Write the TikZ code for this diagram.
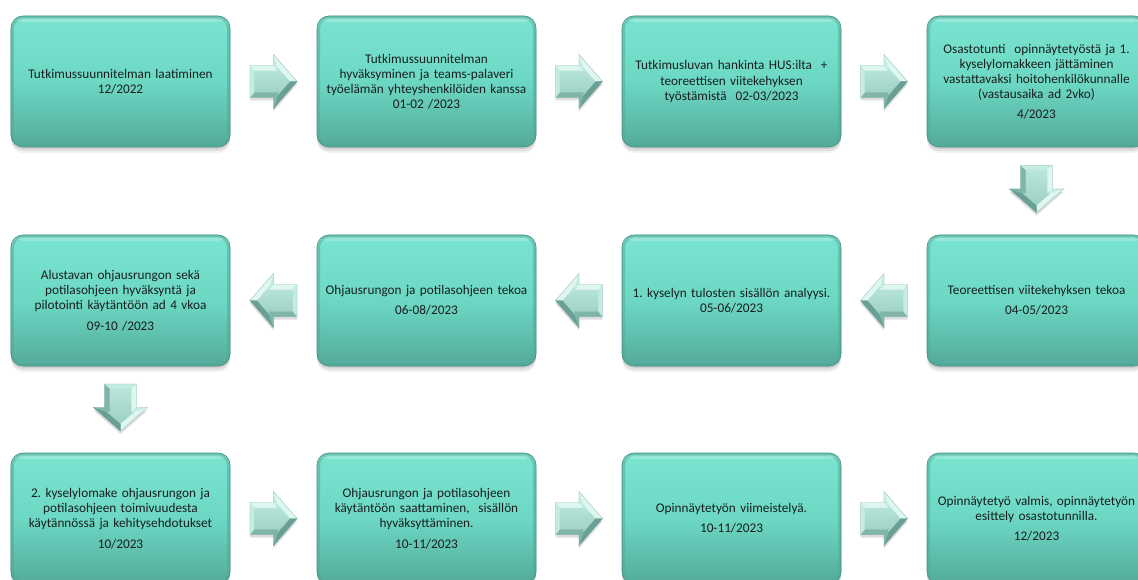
\documentclass[tikz,border=0pt]{standalone}
\usepackage{fontspec}
\setmainfont{Carlito}
\usetikzlibrary{calc,shadows}
\frenchspacing
\definecolor{boxtop}{RGB}{122,228,208}
\definecolor{boxmid}{RGB}{108,216,196}
\definecolor{boxbot}{RGB}{84,170,154}
\definecolor{boxedge}{RGB}{70,145,132}
\definecolor{textc}{RGB}{25,30,30}
\definecolor{arlight}{RGB}{222,248,241}
\definecolor{armidl}{RGB}{196,236,226}
\definecolor{arface1}{RGB}{186,230,219}
\definecolor{arface2}{RGB}{155,208,195}
\definecolor{ardark}{RGB}{128,182,170}
\definecolor{ardarker}{RGB}{105,160,149}
\tikzset{
  stage/.style={rounded corners=12bp, minimum width=219bp, minimum height=131bp,
    inner sep=0pt, text width=216bp, align=center,
    font=\fontsize{13.3}{15.2}\selectfont\frenchspacing, text=textc,
    top color=boxtop, bottom color=boxbot, middle color=boxmid,
    draw=boxedge, line width=0.6bp,
    drop shadow={shadow xshift=0bp, shadow yshift=-2bp, opacity=0.08, fill=black},
    drop shadow={shadow xshift=0bp, shadow yshift=-4bp, opacity=0.07, fill=black},
    drop shadow={shadow xshift=0bp, shadow yshift=-6bp, opacity=0.05, fill=black},
    path picture={
      \draw[boxbot, opacity=0.55, line width=6bp]
        (path picture bounding box.south west) rectangle (path picture bounding box.north east);
      \fill[white, opacity=0.22]
        ([yshift=-2bp]path picture bounding box.north west) rectangle ([yshift=-6bp]path picture bounding box.north east);
    }},
  facet/.style={line width=0.2bp},
}
\newcommand{\blockarrow}[2]{%
  \begin{scope}[shift={($(#1)+(0,3)$)},#2]
    \fill[black,opacity=0.13] (-23.5,-16) -- (0,-16) -- (0,-27) -- (23.5,0) -- (0,27) -- (0,16) -- (-23.5,16) -- cycle;
  \end{scope}
  \begin{scope}[shift={(#1)},#2]
    \coordinate (O1) at (-23.5,-16); \coordinate (O2) at (0,-16); \coordinate (O3) at (0,-27);
    \coordinate (O4) at (23.5,0); \coordinate (O5) at (0,27); \coordinate (O6) at (0,16);
    \coordinate (O7) at (-23.5,16);
    \coordinate (I1) at (-19.5,-11); \coordinate (I2) at (4,-11); \coordinate (I3) at (4,-14.7);
    \coordinate (I4) at (16.8,0); \coordinate (I5) at (4,14.7); \coordinate (I6) at (4,11);
    \coordinate (I7) at (-19.5,11);
    \shade[top color=arface1, bottom color=arface2] (I1) -- (I2) -- (I3) -- (I4) -- (I5) -- (I6) -- (I7) -- cycle;
    \filldraw[facet, fill=arlight, draw=arlight] (O1) -- (O2) -- (I2) -- (I1) -- cycle;
    \filldraw[facet, fill=armidl, draw=armidl] (O2) -- (O3) -- (I3) -- (I2) -- cycle;
    \filldraw[facet, fill=arlight, draw=arlight] (O3) -- (O4) -- (I4) -- (I3) -- cycle;
    \filldraw[facet, fill=ardarker, draw=ardarker] (O4) -- (O5) -- (I5) -- (I4) -- cycle;
    \filldraw[facet, fill=ardark, draw=ardark] (O5) -- (O6) -- (I6) -- (I5) -- cycle;
    \filldraw[facet, fill=ardark, draw=ardark] (O6) -- (O7) -- (I7) -- (I6) -- cycle;
    \filldraw[facet, fill=armidl, draw=armidl] (O7) -- (O1) -- (I1) -- (I7) -- cycle;
    \draw[ardarker, opacity=0.6, line width=0.4bp] (O1) -- (O2) -- (O3) -- (O4) -- (O5) -- (O6) -- (O7) -- cycle;
  \end{scope}}
\begin{document}
\begin{tikzpicture}[x=1bp,y=-1bp]
\useasboundingbox (0,0) rectangle (1138,580);
\fill[white] (0,0) rectangle (1138,580);
% row 1
\node[stage] (b1) at (120.5,81.5) {Tutkimussuunnitelman laatiminen\\12/2022};
\node[stage] (b2) at (426.5,81.5) {Tutkimussuunnitelman\\hyväksyminen ja teams-palaveri\\työelämän yhteyshenkilöiden kanssa\\01-02 /2023};
\node[stage] (b3) at (731.5,81.5) {Tutkimusluvan hankinta HUS:ilta\ \ +\\teoreettisen viitekehyksen\\työstämistä\ \ 02-03/2023};
\node[stage] (b4) at (1036.5,81.5) {Osastotunti\ \ opinnäytetyöstä ja 1.\\kyselylomakkeen jättäminen\\vastattavaksi hoitohenkilökunnalle\\(vastausaika ad 2vko)\\[5bp]4/2023};
% row 2
\node[stage] (b5) at (1036.5,300.5) {Teoreettisen viitekehyksen tekoa\\[5bp]04-05/2023};
\node[stage] (b6) at (731.5,300.5) {1. kyselyn tulosten sisällön analyysi.\\05-06/2023};
\node[stage] (b7) at (426.5,300.5) {Ohjausrungon ja potilasohjeen tekoa\\[5bp]06-08/2023};
\node[stage] (b8) at (120.5,300.5) {Alustavan ohjausrungon sekä\\potilasohjeen hyväksyntä ja\\pilotointi käytäntöön ad 4 vkoa\\[5bp]09-10 /2023};
% row 3
\node[stage] (b9) at (120.5,518.5) {2. kyselylomake ohjausrungon ja\\potilasohjeen toimivuudesta\\käytännössä ja kehitysehdotukset\\[5bp]10/2023};
\node[stage] (b10) at (426.5,518.5) {Ohjausrungon ja potilasohjeen\\käytäntöön saattaminen,\ \ sisällön\\hyväksyttäminen.\\[5bp]10-11/2023};
\node[stage] (b11) at (731.5,518.5) {Opinnäytetyön viimeistelyä.\\[5bp]10-11/2023};
\node[stage] (b12) at (1036.5,518.5) {Opinnäytetyö valmis, opinnäytetyön\\esittely osastotunnilla.\\[5bp]12/2023};
% arrows
\coordinate (a12) at ($(b1.east)!0.5!(b2.west)$);
\coordinate (a23) at ($(b2.east)!0.5!(b3.west)$);
\coordinate (a34) at ($(b3.east)!0.5!(b4.west)$);
\coordinate (a45) at ($(b4.south)!0.5!(b5.north)+(0,-2)$);
\coordinate (a56) at ($(b5.west)!0.5!(b6.east)$);
\coordinate (a67) at ($(b6.west)!0.5!(b7.east)$);
\coordinate (a78) at ($(b7.west)!0.5!(b8.east)$);
\coordinate (a89) at ($(b8.south)!0.5!(b9.north)+(0,-2)$);
\coordinate (a910) at ($(b9.east)!0.5!(b10.west)$);
\coordinate (a1011) at ($(b10.east)!0.5!(b11.west)$);
\coordinate (a1112) at ($(b11.east)!0.5!(b12.west)$);
\blockarrow{a12}{}
\blockarrow{a23}{}
\blockarrow{a34}{}
\blockarrow{a45}{rotate=-90}
\blockarrow{a56}{xscale=-1}
\blockarrow{a67}{xscale=-1}
\blockarrow{a78}{xscale=-1}
\blockarrow{a89}{rotate=-90}
\blockarrow{a910}{}
\blockarrow{a1011}{}
\blockarrow{a1112}{}
\end{tikzpicture}
\end{document}
